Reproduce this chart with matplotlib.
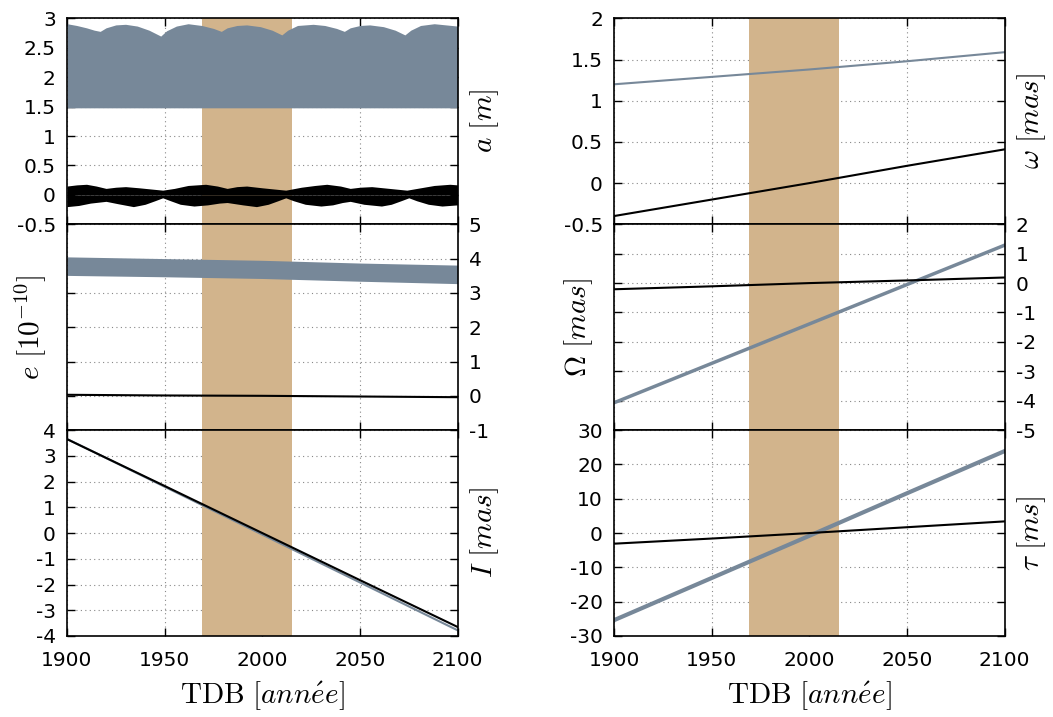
import matplotlib
matplotlib.use('Agg')
import matplotlib.pyplot as plt
from matplotlib.ticker import FormatStrFormatter

plt.rcParams['font.family'] = 'DejaVu Sans'
plt.rcParams['mathtext.fontset'] = 'cm'
plt.rcParams['axes.unicode_minus'] = False

GREY = '#778899'
TAN = '#d2b48c'

# fenetre d'observation (bande)
band = (1969, 2015)
years = [1900, 1950, 2000, 2050, 2100]

# a [m] : enveloppes des oscillations rapides
a_grey_years = [1900, 1905, 1910, 1914, 1917, 1920, 1925, 1930, 1936, 1942, 1948,
                1951, 1956, 1962, 1969, 1975, 1979, 1982, 1987, 1992, 1999, 2005,
                2010, 2013, 2018, 2026, 2032, 2038, 2042, 2045, 2050, 2055, 2062,
                2068, 2073, 2076, 2081, 2088, 2094, 2100]
a_grey_top = [2.91, 2.88, 2.84, 2.80, 2.78, 2.84, 2.89, 2.90, 2.87, 2.80, 2.70,
              2.79, 2.87, 2.91, 2.88, 2.83, 2.78, 2.84, 2.88, 2.89, 2.86, 2.80,
              2.72, 2.80, 2.88, 2.90, 2.88, 2.83, 2.78, 2.84, 2.88, 2.89, 2.86,
              2.80, 2.72, 2.80, 2.88, 2.91, 2.89, 2.87]
a_grey_low = 1.48

a_black_top_years = [1900, 1905, 1910, 1915, 1920, 1925, 1930, 1937, 1943, 1949,
                     1955, 1962, 1971, 1977, 1982, 1987, 1992, 2000, 2006, 2012,
                     2020, 2027, 2033, 2040, 2045, 2050, 2056, 2062, 2068, 2074,
                     2081, 2088, 2096, 2100]
a_black_top = [0.15, 0.17, 0.18, 0.15, 0.11, 0.13, 0.14, 0.12, 0.10, 0.08,
               0.11, 0.16, 0.18, 0.15, 0.11, 0.14, 0.15, 0.12, 0.10, 0.08,
               0.13, 0.16, 0.18, 0.15, 0.11, 0.13, 0.14, 0.12, 0.10, 0.08,
               0.12, 0.16, 0.18, 0.17]
a_black_bot_years = [1900, 1906, 1912, 1920, 1926, 1934, 1940, 1945, 1949, 1953,
                     1958, 1965, 1972, 1978, 1982, 1990, 1997, 2003, 2008, 2012,
                     2016, 2022, 2030, 2036, 2041, 2045, 2052, 2061, 2066, 2071,
                     2075, 2079, 2085, 2092, 2100]
a_black_bot = [-0.20, -0.18, -0.14, -0.11, -0.15, -0.20, -0.16, -0.10, -0.05, -0.10,
               -0.16, -0.19, -0.17, -0.14, -0.13, -0.17, -0.20, -0.16, -0.10, -0.05,
               -0.10, -0.16, -0.19, -0.17, -0.13, -0.11, -0.16, -0.19, -0.16, -0.10,
               -0.05, -0.10, -0.16, -0.19, -0.17]

# e [1e-10]
e_grey_top = [4.05, 4.00, 3.95, 3.87, 3.81]
e_grey_bot = [3.51, 3.47, 3.42, 3.34, 3.27]
e_black = [0.03, 0.01, 0.00, -0.02, -0.04]

# I [mas]
I_black = [3.65, 1.83, 0.00, -1.83, -3.65]
I_grey = [3.66, 1.80, -0.06, -1.92, -3.78]

# omega [mas]
om_black = [-0.40, -0.20, 0.00, 0.21, 0.41]
om_grey = [1.20, 1.29, 1.38, 1.48, 1.59]

# Omega [mas]
Om_black = [-0.21, -0.11, 0.00, 0.09, 0.19]
Om_grey = [-4.07, -2.73, -1.39, -0.05, 1.29]

# tau [ms]
tau_black = [-3.1, -1.6, 0.0, 1.7, 3.4]
tau_grey = [-25.4, -13.1, -0.8, 11.6, 23.9]


def setup(ax, ylim, yticks, label, label_side, fmt='%g', last=False):
    ax.set_xlim(1900, 2100)
    ax.set_ylim(*ylim)
    ax.set_xticks(years)
    ax.set_yticks(yticks)
    ax.yaxis.set_major_formatter(FormatStrFormatter(fmt))
    ax.axvspan(band[0], band[1], color=TAN, lw=0, zorder=0.8)
    ax.set_axisbelow(True)
    ax.grid(True, color='#888888', linestyle=(0, (1, 3)), lw=0.8)
    ax.tick_params(direction='in', length=6, width=1, top=True, right=True,
                   labelsize=14.5)
    ax.tick_params(axis='y', pad=8)
    ax.tick_params(axis='x', pad=11)
    for s in ax.spines.values():
        s.set_linewidth(1.2)

    if label_side == 'right':
        ax.tick_params(axis='y', labelleft=True, labelright=False)
        ax.yaxis.set_label_position('right')
        ax.yaxis.set_label_coords(1.028, 0.5)
    else:
        ax.tick_params(axis='y', labelleft=False, labelright=True)
        ax.yaxis.set_label_position('left')
        ax.yaxis.set_label_coords(-0.048, 0.5)
    ax.set_ylabel(label, fontsize=21)

    if last:
        ax.set_xlabel(r'$\mathrm{TDB}\ [ann\acute{e}e]$', fontsize=21, labelpad=6)
    else:
        ax.tick_params(axis='x', labelbottom=False)


fig = plt.figure(figsize=(10.53, 7.17), dpi=100)

h = 0.2871
bottoms = [0.113 + 2 * h, 0.113 + h, 0.113]
xl, xr, w = 0.0636, 0.5831, 0.3710

# colonne gauche
ax1 = fig.add_axes([xl, bottoms[0], w, h])
ax1.fill_between(a_grey_years, a_grey_low, a_grey_top, color=GREY, lw=0, zorder=2)
ax1.fill_between(a_black_top_years, 0, a_black_top, color='black', lw=0, zorder=2)
ax1.fill_between(a_black_bot_years, a_black_bot, 0, color='black', lw=0, zorder=2)
setup(ax1, (-0.5, 3), [-0.5, 0, 0.5, 1, 1.5, 2, 2.5, 3], r'$a\ [m]$', 'right')

ax2 = fig.add_axes([xl, bottoms[1], w, h])
ax2.fill_between(years, e_grey_bot, e_grey_top, color=GREY, lw=0, zorder=2)
ax2.plot(years, e_black, color='black', lw=1.5, zorder=3)
setup(ax2, (-1, 5), [-1, 0, 1, 2, 3, 4, 5], r'$e\ [10^{-10}]$', 'left')

ax3 = fig.add_axes([xl, bottoms[2], w, h])
ax3.plot(years, I_grey, color=GREY, lw=1.5, zorder=2)
ax3.plot(years, I_black, color='black', lw=1.5, zorder=3)
setup(ax3, (-4, 4), list(range(-4, 5)), r'$I\ [mas]$', 'right', last=True)

# colonne droite
ax4 = fig.add_axes([xr, bottoms[0], w, h])
ax4.plot(years, om_grey, color=GREY, lw=1.5, zorder=2)
ax4.plot(years, om_black, color='black', lw=1.5, zorder=3)
setup(ax4, (-0.5, 2), [-0.5, 0, 0.5, 1, 1.5, 2], r'$\omega\ [mas]$', 'right')

ax5 = fig.add_axes([xr, bottoms[1], w, h])
ax5.plot(years, Om_grey, color=GREY, lw=2.5, zorder=2)
ax5.plot(years, Om_black, color='black', lw=1.5, zorder=3)
setup(ax5, (-5, 2), list(range(-5, 3)), r'$\Omega\ [mas]$', 'left')

ax6 = fig.add_axes([xr, bottoms[2], w, h])
ax6.plot(years, tau_grey, color=GREY, lw=3.0, zorder=2)
ax6.plot(years, tau_black, color='black', lw=1.5, zorder=3)
setup(ax6, (-30, 30), list(range(-30, 31, 10)), r'$\tau\ [ms]$', 'right', last=True)

fig.savefig('out.png', dpi=100)
